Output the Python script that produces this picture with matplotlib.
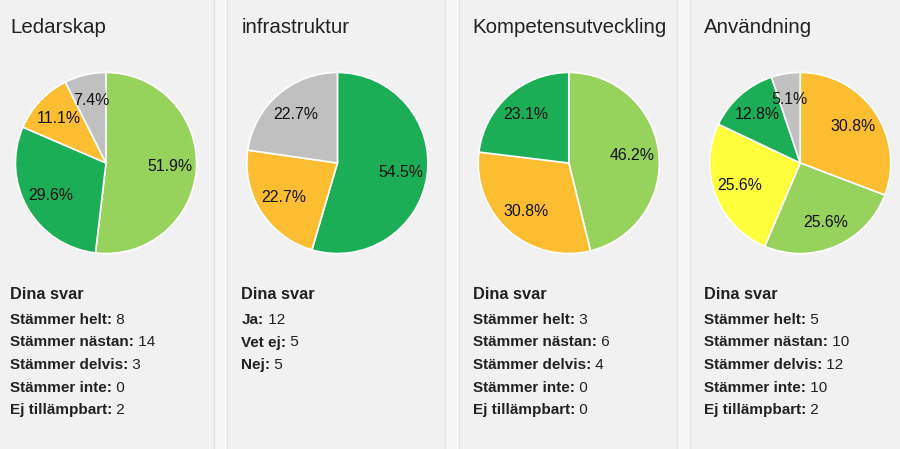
import matplotlib
matplotlib.use('Agg')
import matplotlib.pyplot as plt
from matplotlib.patches import Rectangle

plt.rcParams['font.family'] = ['Liberation Sans', 'DejaVu Sans']

## DATA ##
titles = ['Ledarskap', 'infrastruktur', 'Kompetensutveckling', 'Användning']

skala_labels = ['Stämmer helt', 'Stämmer nästan', 'Stämmer delvis', 'Stämmer inte', 'Ej tillämpbart']
ja_nej_labels = ['Ja', 'Vet ej', 'Nej']

ledarskap_values = [8, 14, 3, 0, 2]
infrastruktur_values = [12, 5, 5]
kompetens_values = [3, 6, 4, 0, 0]
anvandning_values = [5, 10, 12, 10, 2]

# farger per svarsalternativ
skala_colors = ['#1bae57', '#97d25c', '#fdbd30', '#ffff3c', '#c0c0c0']
ja_nej_colors = ['#1bae57', '#fdbd30', '#c0c0c0']

panels = [
    (titles[0], skala_labels, ledarskap_values, skala_colors),
    (titles[1], ja_nej_labels, infrastruktur_values, ja_nej_colors),
    (titles[2], skala_labels, kompetens_values, skala_colors),
    (titles[3], skala_labels, anvandning_values, skala_colors),
]

W, H = 900, 449
TXT = '#222222'

fig = plt.figure(figsize=(W / 100, H / 100), dpi=100)
fig.patch.set_facecolor('#f7f7f7')

# bakgrundsaxel i pixelkoordinater (y nedåt)
bg = fig.add_axes([0, 0, 1, 1])
bg.set_xlim(0, W)
bg.set_ylim(H, 0)
bg.axis('off')

R = 91
for i, (title, labels, values, colors) in enumerate(panels):
    cx = 106 + i * 231.4
    cy = 163
    x0 = cx - 110

    bg.add_patch(Rectangle((x0, -2), 218, H + 4, facecolor='#f1f1f1',
                           edgecolor='#e2e2e2', lw=1))

    bg.text(x0 + 14, 33, title, fontsize=14.8, color=TXT, va='baseline')

    # pie: nollvärden bort, störst först medurs från klockan 12
    pairs = sorted([(v, c) for v, c in zip(values, colors) if v > 0], key=lambda p: -p[0])
    ax = fig.add_axes([(cx - R) / W, (H - cy - R) / H, 2 * R / W, 2 * R / H])
    ax.pie([p[0] for p in pairs], colors=[p[1] for p in pairs], startangle=90,
           counterclock=False, autopct='%.1f%%', pctdistance=0.71, radius=1,
           wedgeprops=dict(edgecolor='white', linewidth=1.2),
           textprops=dict(fontsize=11.4, color='#111111'))
    ax.set_xlim(-1.005, 1.005)
    ax.set_ylim(-1.005, 1.005)
    ax.axis('off')

    # Dina svar
    bg.text(x0 + 14, 299, 'Dina svar', fontsize=11.8, fontweight='bold', color=TXT, va='baseline')
    for j, (lab, v) in enumerate(zip(labels, values)):
        y = 324 + j * 22.5
        t = bg.text(x0 + 14, y, lab + ':', fontsize=11, fontweight='bold', color=TXT, va='baseline')
        bg.annotate(f' {v}', xy=(1, 0), xycoords=t, fontsize=11, color=TXT, va='bottom', ha='left')

plt.savefig('out.png', dpi=100, facecolor=fig.get_facecolor())
